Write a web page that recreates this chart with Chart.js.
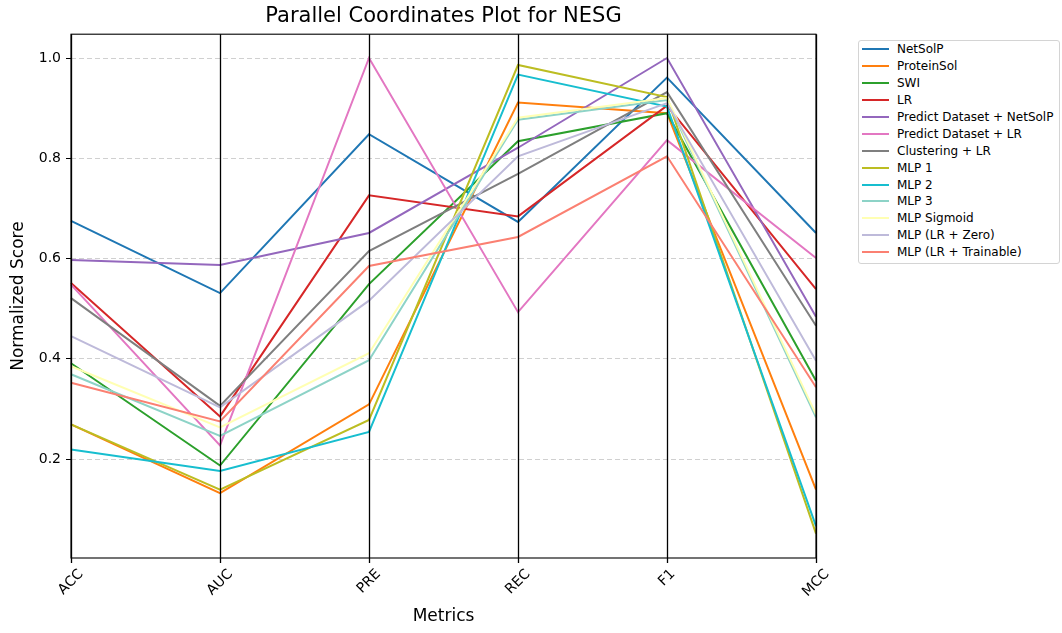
<!DOCTYPE html>
<html>
<head>
<meta charset="utf-8">
<title>Parallel Coordinates Plot for NESG</title>
<script src="https://cdn.jsdelivr.net/npm/chart.js@4.4.1/dist/chart.umd.min.js"></script>
<style>
    body { margin: 0; background: #fff; overflow: hidden; }
    #wrap { position: relative; width: 1062px; height: 633px; overflow: hidden; }
    #legend {
        position: absolute; left: 858px; top: 40px; width: 200px;
        border: 1px solid #d4d4d4; border-radius: 3px; padding: 0 0 2px 0;
        font: 12px "DejaVu Sans", sans-serif; color: #000; background: #fff;
    }
    .item { display: flex; align-items: center; height: 16.9px; white-space: nowrap; }
    .swatch { flex: 0 0 27px; height: 2px; margin: 0 8px 0 3px; }
</style>
</head>
<body>
<div id="wrap">
    <canvas id="parallelChart" width="1062" height="633"></canvas>
    <div id="legend"></div>
</div>
<script>
// metrics along the x axis and the y tick values
var metrics = ['ACC', 'AUC', 'PRE', 'REC', 'F1', 'MCC'];
var yTicks = [0.2, 0.4, 0.6, 0.8, 1.0];

// normalized scores per model, in metric order
var netsolp        = [0.675, 0.531, 0.848, 0.673, 0.961, 0.651];
var proteinsol     = [0.269, 0.132, 0.309, 0.911, 0.890, 0.139];
var swi            = [0.391, 0.187, 0.549, 0.834, 0.890, 0.356];
var lr             = [0.551, 0.285, 0.726, 0.684, 0.905, 0.539];
var predictNetsolp = [0.597, 0.587, 0.651, 0.821, 1.000, 0.484];
var predictLr      = [0.548, 0.227, 1.000, 0.493, 0.836, 0.601];
var clusteringLr   = [0.521, 0.306, 0.615, 0.769, 0.932, 0.466];
var mlp1           = [0.269, 0.139, 0.278, 0.986, 0.922, 0.051];
var mlp2           = [0.219, 0.176, 0.254, 0.967, 0.903, 0.066];
var mlp3           = [0.369, 0.246, 0.397, 0.877, 0.916, 0.283];
var mlpSigmoid     = [0.385, 0.263, 0.411, 0.881, 0.920, 0.289];
var mlpZero        = [0.445, 0.303, 0.516, 0.804, 0.910, 0.396];
var mlpTrainable   = [0.352, 0.275, 0.585, 0.643, 0.804, 0.343];

var models = ['NetSolP', 'ProteinSol', 'SWI', 'LR', 'Predict Dataset + NetSolP',
    'Predict Dataset + LR', 'Clustering + LR', 'MLP 1', 'MLP 2', 'MLP 3',
    'MLP Sigmoid', 'MLP (LR + Zero)', 'MLP (LR + Trainable)'];
var scores = [netsolp, proteinsol, swi, lr, predictNetsolp, predictLr, clusteringLr,
    mlp1, mlp2, mlp3, mlpSigmoid, mlpZero, mlpTrainable];
var colors = ['#1f77b4', '#ff7f0e', '#2ca02c', '#d62728', '#9467bd', '#e377c2', '#7f7f7f',
    '#bcbd22', '#17becf', '#8dd3c7', '#ffffb3', '#bebada', '#fb8072'];

var datasets = models.map(function(name, i) {
    return {
        label: name,
        data: scores[i],
        borderColor: colors[i],
        backgroundColor: colors[i],
        borderWidth: 2,
        pointRadius: 0,
        tension: 0,
        fill: false,
        order: models.length - i   // later models drawn on top
    };
});

// vertical metric axes, frame and rotated metric labels
var axisDecor = {
    id: 'axisDecor',
    afterDatasetsDraw: function(chart) {
        var ctx = chart.ctx, area = chart.chartArea, xs = chart.scales.x;
        ctx.save();
        ctx.strokeStyle = '#000';
        ctx.lineWidth = 1.3;
        metrics.forEach(function(m, i) {
            var x = Math.round(xs.getPixelForValue(i)) + 0.5;
            ctx.beginPath();
            ctx.moveTo(x, area.top);
            ctx.lineTo(x, area.bottom + 5);
            ctx.stroke();
        });
        ctx.lineWidth = 1.1;
        ctx.strokeRect(area.left, area.top, area.right - area.left, area.bottom - area.top);

        ctx.font = '14px "DejaVu Sans", sans-serif';
        ctx.fillStyle = '#000';
        ctx.textAlign = 'center';
        ctx.textBaseline = 'middle';
        metrics.forEach(function(m, i) {
            var x = xs.getPixelForValue(i);
            var w = ctx.measureText(m).width;
            var half = (w + 14) * Math.SQRT1_2 / 2;
            ctx.save();
            ctx.translate(x, area.bottom + 9 + half);
            ctx.rotate(-Math.PI / 4);
            ctx.fillText(m, 0, 0);
            ctx.restore();
        });
        ctx.restore();
    }
};

var ctx = document.getElementById('parallelChart').getContext('2d');
var chart = new Chart(ctx, {
    type: 'line',
    data: { labels: metrics, datasets: datasets },
    options: {
        responsive: false,
        animation: false,
        layout: { padding: { left: 0, right: 246, top: 0, bottom: 0 } },
        plugins: {
            legend: { display: false },
            tooltip: { enabled: false },
            title: {
                display: true,
                text: 'Parallel Coordinates Plot for NESG',
                fullSize: false,
                color: '#000',
                font: { family: '"DejaVu Sans", sans-serif', size: 21, weight: 'normal' },
                padding: { top: 4, bottom: 5 }
            }
        },
        scales: {
            x: {
                type: 'category',
                offset: false,
                grid: { display: false },
                border: { display: false },
                ticks: { display: false },
                title: {
                    display: true,
                    text: 'Metrics',
                    color: '#000',
                    font: { family: '"DejaVu Sans", sans-serif', size: 17 },
                    padding: { top: 0, bottom: 6 }
                },
                afterFit: function(scale) { scale.height = 75; }
            },
            y: {
                min: 0.0025,
                max: 1.0475,
                afterBuildTicks: function(scale) {
                    scale.ticks = yTicks.map(function(v) { return { value: v }; });
                },
                grid: {
                    color: 'rgba(176,176,176,0.6)',
                    tickLength: 5,
                    tickColor: '#000',
                    tickBorderDash: [],
                    tickWidth: 1
                },
                border: { display: false, dash: [5, 3] },
                ticks: {
                    color: '#000',
                    padding: 5,
                    font: { family: '"DejaVu Sans", sans-serif', size: 14 },
                    callback: function(v) { return v.toFixed(1); }
                },
                title: {
                    display: true,
                    text: 'Normalized Score',
                    color: '#000',
                    font: { family: '"DejaVu Sans", sans-serif', size: 17 },
                    padding: { top: 8, bottom: 0 }
                },
                afterFit: function(scale) { scale.width = 71; }
            }
        }
    },
    plugins: [axisDecor]
});

// legend box built from the chart's datasets
var legend = document.getElementById('legend');
chart.data.datasets.forEach(function(ds) {
    var row = document.createElement('div');
    row.className = 'item';
    var sw = document.createElement('span');
    sw.className = 'swatch';
    sw.style.background = ds.borderColor;
    var txt = document.createElement('span');
    txt.textContent = ds.label;
    row.appendChild(sw);
    row.appendChild(txt);
    legend.appendChild(row);
});
</script>
</body>
</html>
